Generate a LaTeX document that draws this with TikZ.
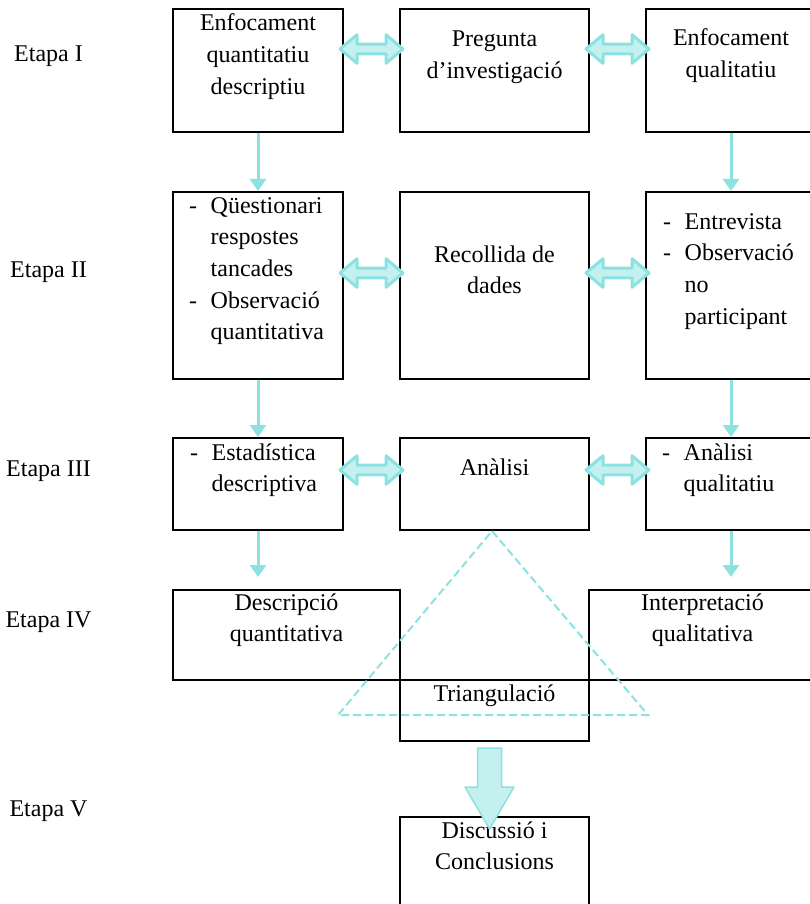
\documentclass[tikz,border=0pt]{standalone}
\usepackage{fontspec}
\setmainfont{Liberation Serif}
\usetikzlibrary{arrows.meta,calc}
\definecolor{tealline}{RGB}{140,226,224}
\definecolor{tealfill}{RGB}{196,240,240}
\newcommand{\cellines}[1]{\begin{tabular}[t]{@{}c@{}}#1\end{tabular}}
\newcommand{\dashlist}[1]{\begin{tabular}[t]{@{}p{21.5pt}@{}l@{}}#1\end{tabular}}
% double block arrow centred between two boxes, #3 = drop from the top edge
\newcommand{\dblarrow}[3]{%
  \path ($(#1.north east)!.5!(#2.north west)$) ++(0,#3) coordinate (m);
  \draw[dbl] ($(m)+(-31.5,0)$) -- ++(17,-14.3) -- ++(0,9.5) -- ++(29,0) -- ++(0,-9.5)
    -- ++(17,14.3) -- ++(-17,14.3) -- ++(0,-9.5) -- ++(-29,0) -- ++(0,9.5) -- cycle;}
\tikzset{
  box/.style={draw, line width=2pt, rectangle, anchor=north west, inner sep=0pt},
  txt/.style={font=\fontsize{24}{31.7}\selectfont, inner sep=0pt, anchor=base},
  lst/.style={txt, anchor=base west},
  down/.style={tealline, line width=3pt, -{Triangle[length=12pt,width=16pt]}},
  dbl/.style={draw=tealline, fill=tealfill, line width=3pt, line join=round},
  big/.style={draw=tealline, fill=tealfill, line width=1.5pt, line join=round},
  tri/.style={tealline, line width=2pt, dash pattern=on 8pt off 4pt},
}
\begin{document}
\begin{tikzpicture}[x=1pt,y=-1pt]
  \useasboundingbox (0,0) rectangle (809,904);
  % stages
  \node[txt] (et1) at (48.5,61.5) {Etapa I};
  \node[txt] (et2) at (48.5,277) {Etapa II};
  \node[txt] (et3) at (48.5,476) {Etapa III};
  \node[txt] (et4) at (48.5,627) {Etapa IV};
  \node[txt] (et5) at (48.5,816) {Etapa V};
  % boxes
  \node[box, minimum width=170pt, minimum height=123pt] (quan1) at (172,8) {};
  \node[box, minimum width=189pt, minimum height=123pt] (mid1) at (399,8) {};
  \node[box, minimum width=170pt, minimum height=123pt] (qual1) at (645,8) {};
  \node[box, minimum width=170pt, minimum height=187pt] (quan2) at (172,191) {};
  \node[box, minimum width=189pt, minimum height=187pt] (mid2) at (399,191) {};
  \node[box, minimum width=170pt, minimum height=187pt] (qual2) at (645,191) {};
  \node[box, minimum width=170pt, minimum height=92pt] (quan3) at (172,437) {};
  \node[box, minimum width=189pt, minimum height=92pt] (mid3) at (399,437) {};
  \node[box, minimum width=170pt, minimum height=92pt] (qual3) at (645,437) {};
  \node[box, minimum width=227pt, minimum height=90pt] (quan4) at (172,589) {};
  \node[box, minimum width=227pt, minimum height=90pt] (qual4) at (588,589) {};
  \node[box, minimum width=189pt, minimum height=61pt] (trig) at (399,679) {};
  \node[box, minimum width=189pt, minimum height=100pt] (disc) at (399,816) {};
  % texts
  \node[txt] (quan1t) at ([yshift=-23pt]quan1.north) {\cellines{Enfocament\\quantitatiu\\descriptiu}};
  \node[txt] (mid1t) at ([yshift=-39pt]mid1.north) {\cellines{Pregunta\\d’investigació}};
  \node[txt] (qual1t) at ([yshift=-38pt]qual1.north) {\cellines{Enfocament\\qualitatiu}};
  \node[lst] (quan2t) at ([xshift=17pt,yshift=-22pt]quan2.north west) {\dashlist{-&Qüestionari\\&respostes\\&tancades\\-&Observació\\&quantitativa}};
  \node[txt] (mid2t) at ([yshift=-71pt]mid2.north) {\cellines{Recollida de\\dades}};
  \node[lst] (qual2t) at ([xshift=18pt,yshift=-38pt]qual2.north west) {\dashlist{-&Entrevista\\-&Observació\\&no\\&participant}};
  \node[lst] (quan3t) at ([xshift=18pt,yshift=-23pt]quan3.north west) {\dashlist{-&Estadística\\&descriptiva}};
  \node[txt] (mid3t) at ([yshift=-38pt]mid3.north) {Anàlisi};
  \node[lst] (qual3t) at ([xshift=17pt,yshift=-23pt]qual3.north west) {\dashlist{-&Anàlisi\\&qualitatiu}};
  \node[txt] (quan4t) at ([yshift=-21pt]quan4.north) {\cellines{Descripció\\quantitativa}};
  \node[txt] (qual4t) at ([yshift=-21pt]qual4.north) {\cellines{Interpretació\\qualitativa}};
  \node[txt] (trigt) at ([yshift=-22pt]trig.north) {Triangulació};
  \node[txt] (disct) at ([yshift=-22pt]disc.north) {\cellines{Discussió i\\Conclusions}};
  % arrows
  \dblarrow{quan1}{mid1}{41}
  \dblarrow{mid1}{qual1}{41}
  \dblarrow{quan2}{mid2}{82}
  \dblarrow{mid2}{qual2}{82}
  \dblarrow{quan3}{mid3}{33}
  \dblarrow{mid3}{qual3}{33}
  \draw[down] (quan1.south) -- (quan2.north);
  \draw[down] (qual1.south) -- (qual2.north);
  \draw[down] (quan2.south) -- (quan3.north);
  \draw[down] (qual2.south) -- (qual3.north);
  \draw[down, shorten >=12pt] (quan3.south) -- (quan3.south |- quan4.north);
  \draw[down, shorten >=12pt] (qual3.south) -- (qual3.south |- qual4.north);
  \draw[tri] (492,531) -- (648,715) -- (338,715) -- cycle;
  \draw[big] ([xshift=-5pt,yshift=-6pt]trig.south) ++(-12,0) -- ++(0,39) -- ++(-12.5,0)
    -- ++(24.5,42) -- ++(24.5,-42) -- ++(-12.5,0) -- ++(0,-39) -- cycle;
\end{tikzpicture}
\end{document}
